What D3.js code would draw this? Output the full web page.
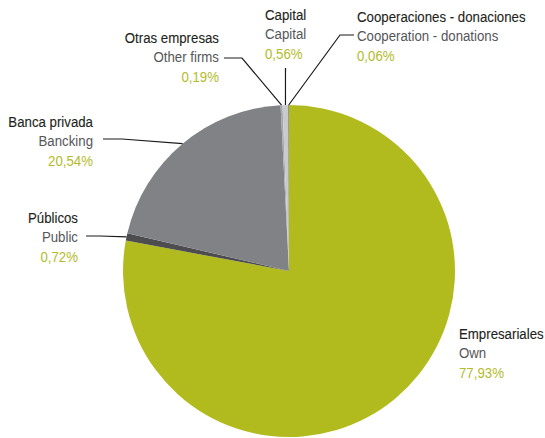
<!DOCTYPE html>
<html>
<head>
<meta charset="utf-8">
<script src="https://cdn.jsdelivr.net/npm/d3@7"></script>
<style>
  html, body { margin: 0; padding: 0; background: #fff; }
  svg text { font-family: "Liberation Sans", Arial, sans-serif; font-size: 15.4px; }
</style>
</head>
<body>
<svg id="chart" width="545" height="438"></svg>
<script>
// Funding sources, in drawing order (clockwise from 12 o'clock)
const categoriesEs = ["Empresariales", "Públicos", "Banca privada", "Otras empresas", "Capital", "Cooperaciones - donaciones"];
const categoriesEn = ["Own", "Public", "Bancking", "Other firms", "Capital", "Cooperation - donations"];
const shares = [77.93, 0.72, 20.54, 0.19, 0.56, 0.06];
const sliceColors = ["#b2bb1e", "#4d4d4f", "#808285", "#a5a7aa", "#c9cacc", "#5d5e60"];

// Label blocks: anchor point of the text block and the leader path bends
const labelLayout = [
  { x: 459, y: 339, anchor: "start", bends: null },
  { x: 78, y: 223, anchor: "end", bends: [[86, 236], [100, 236]] },
  { x: 93, y: 127, anchor: "end", bends: [[103, 139], [122, 139]] },
  { x: 219, y: 43, anchor: "end", bends: [[224, 58], [242, 58]] },
  { x: 265, y: 20, anchor: "start", bends: [[285.5, 68]] },
  { x: 357, y: 22, anchor: "start", bends: [[354, 35], [340, 35]] }
];

const cx = 289, cy = 271, radius = 166;
const lineGap = 19.3;
const narrow = 0.86; // horizontal squeeze for a condensed face

const svg = d3.select("#chart");
const g = svg.append("g").attr("transform", `translate(${cx},${cy})`);

const pie = d3.pie().sort(null).value(d => d)(shares);
const arc = d3.arc().innerRadius(0).outerRadius(radius);

g.selectAll("path.slice")
  .data(pie)
  .join("path")
  .attr("class", "slice")
  .attr("d", arc)
  .attr("fill", (d, i) => sliceColors[i]);

// Leader lines from the rim of each slice out to its label
const rimPoint = d => {
  const a = (d.startAngle + d.endAngle) / 2;
  return [cx + radius * Math.sin(a), cy - radius * Math.cos(a)];
};
pie.forEach((d, i) => {
  const L = labelLayout[i];
  if (!L.bends) return;
  const pts = L.bends.concat([rimPoint(d)]);
  svg.append("path")
    .attr("d", d3.line()(pts))
    .attr("fill", "none")
    .attr("stroke", "#1a1a1a")
    .attr("stroke-width", 1.2);
});

const fmt = v => d3.format(".2f")(v).replace(".", ",") + "%";

labelLayout.forEach((L, i) => {
  const t = svg.append("text")
    .attr("text-anchor", L.anchor)
    .attr("transform", `translate(${L.x},${L.y}) scale(${narrow},1)`);
  t.append("tspan").attr("x", 0).attr("y", 0)
    .attr("fill", "#231f20").attr("stroke", "#231f20").attr("stroke-width", 0.12)
    .text(categoriesEs[i]);
  t.append("tspan").attr("x", 0).attr("y", lineGap).attr("fill", "#555658").text(categoriesEn[i]);
  t.append("tspan").attr("x", 0).attr("y", 2 * lineGap).attr("fill", "#b3bb2a").text(fmt(shares[i]));
});
</script>
</body>
</html>
